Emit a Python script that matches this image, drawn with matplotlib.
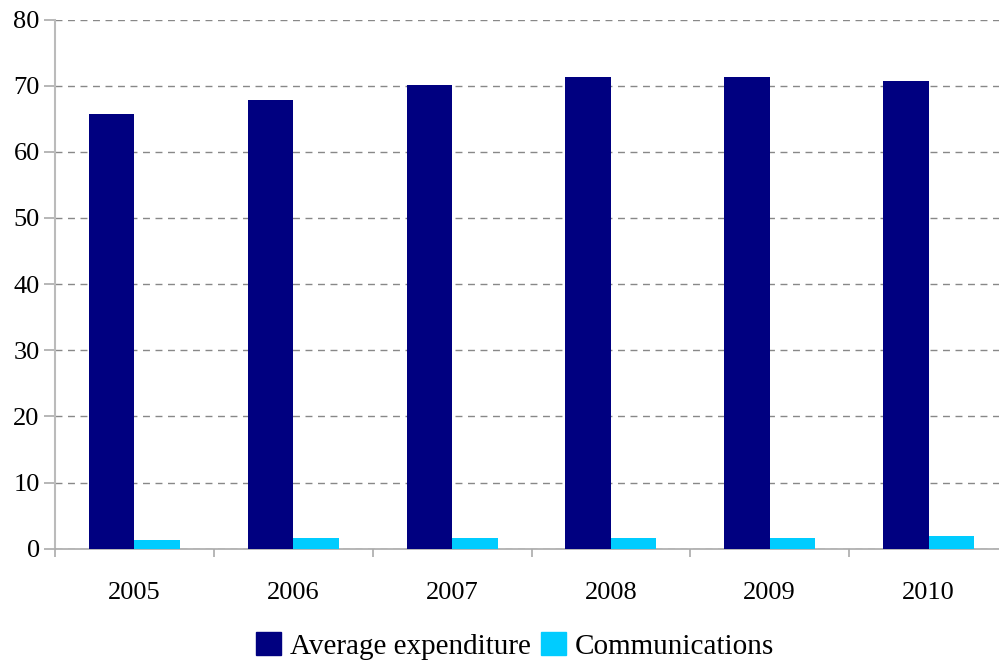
import numpy as np
import matplotlib.pyplot as plt
from matplotlib.patches import Patch

years = ['2005', '2006', '2007', '2008', '2009', '2010']
avg_exp = [65.7, 67.9, 70.1, 71.3, 71.3, 70.7]
comms = [1.3, 1.6, 1.6, 1.6, 1.6, 1.9]

plt.rcParams['font.family'] = ['Liberation Serif', 'DejaVu Serif']

fig = plt.figure(figsize=(9.99, 6.64), dpi=100)
# plot area in pixels: left 55, width ~953 (runs a bit past the right edge)
ax = fig.add_axes([55/999, 115.3/664, 953/999, 529.2/664])

x = np.arange(len(years))
w = 0.286
ax.bar(x - w/2, avg_exp, w, color='#000080', zorder=3)
ax.bar(x + w/2, comms, w, color='#00CCFF', zorder=3)

ax.set_xlim(-0.5, len(years) - 0.5)
ax.set_ylim(0, 80)
ax.set_yticks(range(0, 81, 10))
ax.yaxis.grid(True, color='#888888', linestyle=(0, (5, 4)), linewidth=1)
ax.set_axisbelow(True)

# category labels centered, ticks at the boundaries
ax.set_xticks(np.arange(len(years) + 1) - 0.5)
ax.set_xticklabels([])
ax.set_xticks(x, minor=True)
ax.set_xticklabels(years, minor=True)
ax.tick_params(axis='x', which='minor', length=0, labelsize=19, pad=24)
ax.tick_params(axis='x', which='major', length=6, color='#aaaaaa', width=1.2)
ax.tick_params(axis='y', length=8, color='#aaaaaa', width=1.2, labelsize=19, pad=3)

for s in ['top', 'right']:
    ax.spines[s].set_visible(False)
ax.spines['left'].set_color('#bbbbbb')
ax.spines['left'].set_linewidth(1.5)
ax.spines['bottom'].set_color('#aaaaaa')
ax.spines['bottom'].set_linewidth(1.2)

handles = [Patch(color='#000080', label='Average expenditure'),
           Patch(color='#00CCFF', label='Communications')]
fig.legend(handles=handles, loc='center', bbox_to_anchor=(515/999, 18/664),
           ncol=2, frameon=False, fontsize=21, handlelength=0.85, handleheight=0.85,
           handletextpad=0.3, columnspacing=0.35, borderpad=0)

fig.savefig('out.png', dpi=100)
